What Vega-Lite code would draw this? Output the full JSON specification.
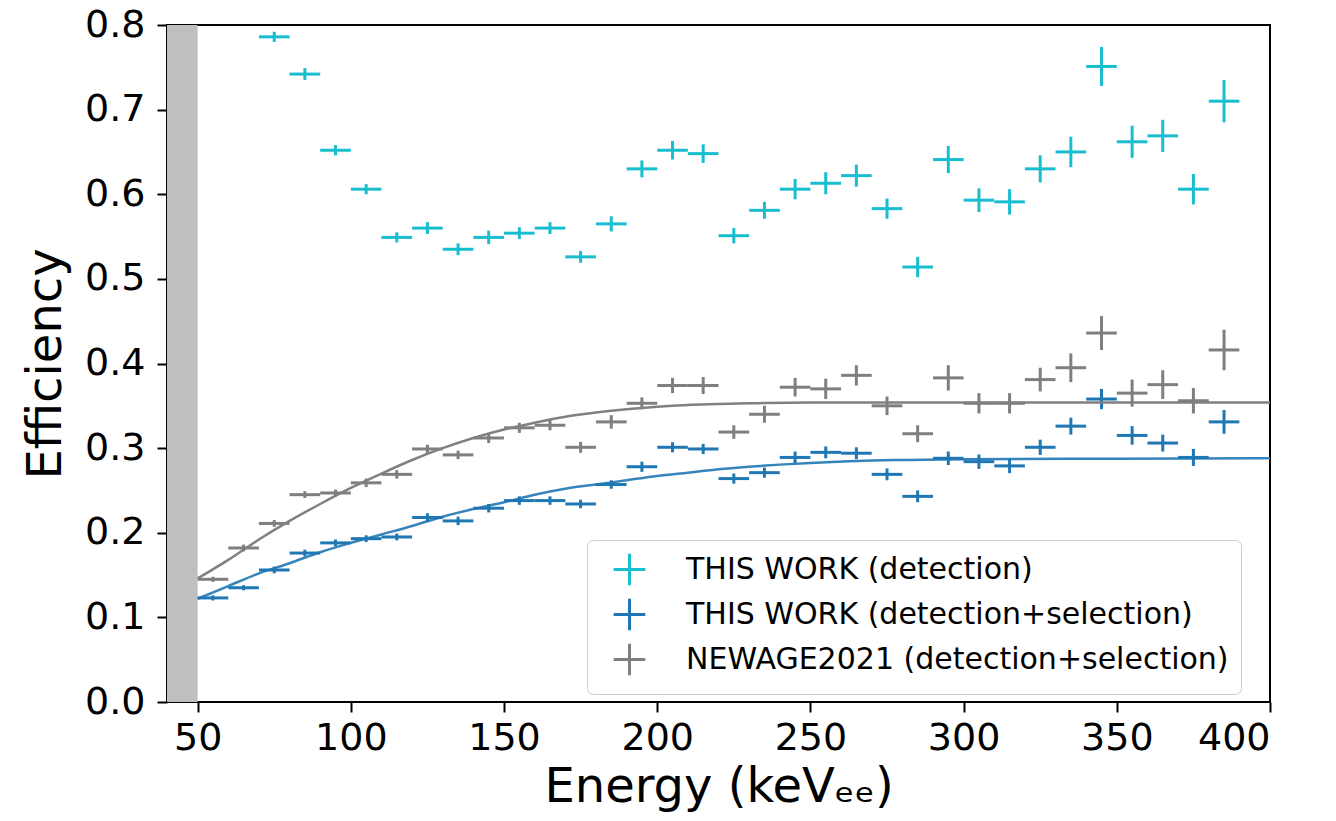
{
  "$schema": "https://vega.github.io/schema/vega-lite/v6.json",
  "width": 1103,
  "height": 677,
  "autosize": {"type": "none"},
  "padding": {"left": 167, "top": 25, "right": 66, "bottom": 119},
  "background": "white",
  "config": {
    "font": "DejaVu Sans",
    "view": {"stroke": "black", "strokeWidth": 2},
    "axis": {
      "domain": false, "grid": false,
      "tickColor": "black", "tickWidth": 2, "tickSize": 10,
      "labelColor": "black", "labelFontSize": 38, "labelFont": "DejaVu Sans",
      "titleColor": "black", "titleFontSize": 48, "titleFontWeight": "normal", "titleFont": "DejaVu Sans"
    }
  },
  "datasets": {
    "band": [{"lo": 40, "hi": 50}],
    "pts": [
      {"series": "THIS WORK (detection)", "E": 75, "eff": 0.786, "err": 0.006, "w": 5},
      {"series": "THIS WORK (detection)", "E": 85, "eff": 0.742, "err": 0.007, "w": 5},
      {"series": "THIS WORK (detection)", "E": 95, "eff": 0.652, "err": 0.006, "w": 5},
      {"series": "THIS WORK (detection)", "E": 105, "eff": 0.606, "err": 0.006, "w": 5},
      {"series": "THIS WORK (detection)", "E": 115, "eff": 0.549, "err": 0.006, "w": 5},
      {"series": "THIS WORK (detection)", "E": 125, "eff": 0.560, "err": 0.007, "w": 5},
      {"series": "THIS WORK (detection)", "E": 135, "eff": 0.535, "err": 0.007, "w": 5},
      {"series": "THIS WORK (detection)", "E": 145, "eff": 0.549, "err": 0.008, "w": 5},
      {"series": "THIS WORK (detection)", "E": 155, "eff": 0.554, "err": 0.007, "w": 5},
      {"series": "THIS WORK (detection)", "E": 165, "eff": 0.560, "err": 0.007, "w": 5},
      {"series": "THIS WORK (detection)", "E": 175, "eff": 0.526, "err": 0.007, "w": 5},
      {"series": "THIS WORK (detection)", "E": 185, "eff": 0.565, "err": 0.009, "w": 5},
      {"series": "THIS WORK (detection)", "E": 195, "eff": 0.630, "err": 0.010, "w": 5},
      {"series": "THIS WORK (detection)", "E": 205, "eff": 0.652, "err": 0.011, "w": 5},
      {"series": "THIS WORK (detection)", "E": 215, "eff": 0.648, "err": 0.011, "w": 5},
      {"series": "THIS WORK (detection)", "E": 225, "eff": 0.551, "err": 0.009, "w": 5},
      {"series": "THIS WORK (detection)", "E": 235, "eff": 0.581, "err": 0.010, "w": 5},
      {"series": "THIS WORK (detection)", "E": 245, "eff": 0.606, "err": 0.012, "w": 5},
      {"series": "THIS WORK (detection)", "E": 255, "eff": 0.613, "err": 0.013, "w": 5},
      {"series": "THIS WORK (detection)", "E": 265, "eff": 0.622, "err": 0.013, "w": 5},
      {"series": "THIS WORK (detection)", "E": 275, "eff": 0.583, "err": 0.012, "w": 5},
      {"series": "THIS WORK (detection)", "E": 285, "eff": 0.514, "err": 0.012, "w": 5},
      {"series": "THIS WORK (detection)", "E": 295, "eff": 0.641, "err": 0.016, "w": 5},
      {"series": "THIS WORK (detection)", "E": 305, "eff": 0.593, "err": 0.014, "w": 5},
      {"series": "THIS WORK (detection)", "E": 315, "eff": 0.591, "err": 0.015, "w": 5},
      {"series": "THIS WORK (detection)", "E": 325, "eff": 0.630, "err": 0.016, "w": 5},
      {"series": "THIS WORK (detection)", "E": 335, "eff": 0.650, "err": 0.018, "w": 5},
      {"series": "THIS WORK (detection)", "E": 345, "eff": 0.751, "err": 0.023, "w": 5},
      {"series": "THIS WORK (detection)", "E": 355, "eff": 0.662, "err": 0.019, "w": 5},
      {"series": "THIS WORK (detection)", "E": 365, "eff": 0.669, "err": 0.019, "w": 5},
      {"series": "THIS WORK (detection)", "E": 375, "eff": 0.606, "err": 0.018, "w": 5},
      {"series": "THIS WORK (detection)", "E": 385, "eff": 0.710, "err": 0.025, "w": 5},
      {"series": "THIS WORK (detection+selection)", "E": 55, "eff": 0.123, "err": 0.003, "w": 5},
      {"series": "THIS WORK (detection+selection)", "E": 65, "eff": 0.135, "err": 0.003, "w": 5},
      {"series": "THIS WORK (detection+selection)", "E": 75, "eff": 0.156, "err": 0.004, "w": 5},
      {"series": "THIS WORK (detection+selection)", "E": 85, "eff": 0.176, "err": 0.004, "w": 5},
      {"series": "THIS WORK (detection+selection)", "E": 95, "eff": 0.188, "err": 0.004, "w": 5},
      {"series": "THIS WORK (detection+selection)", "E": 105, "eff": 0.193, "err": 0.004, "w": 5},
      {"series": "THIS WORK (detection+selection)", "E": 115, "eff": 0.195, "err": 0.004, "w": 5},
      {"series": "THIS WORK (detection+selection)", "E": 125, "eff": 0.218, "err": 0.005, "w": 5},
      {"series": "THIS WORK (detection+selection)", "E": 135, "eff": 0.214, "err": 0.005, "w": 5},
      {"series": "THIS WORK (detection+selection)", "E": 145, "eff": 0.229, "err": 0.005, "w": 5},
      {"series": "THIS WORK (detection+selection)", "E": 155, "eff": 0.238, "err": 0.005, "w": 5},
      {"series": "THIS WORK (detection+selection)", "E": 165, "eff": 0.238, "err": 0.005, "w": 5},
      {"series": "THIS WORK (detection+selection)", "E": 175, "eff": 0.234, "err": 0.005, "w": 5},
      {"series": "THIS WORK (detection+selection)", "E": 185, "eff": 0.257, "err": 0.005, "w": 5},
      {"series": "THIS WORK (detection+selection)", "E": 195, "eff": 0.278, "err": 0.006, "w": 5},
      {"series": "THIS WORK (detection+selection)", "E": 205, "eff": 0.301, "err": 0.006, "w": 5},
      {"series": "THIS WORK (detection+selection)", "E": 215, "eff": 0.299, "err": 0.006, "w": 5},
      {"series": "THIS WORK (detection+selection)", "E": 225, "eff": 0.264, "err": 0.006, "w": 5},
      {"series": "THIS WORK (detection+selection)", "E": 235, "eff": 0.271, "err": 0.006, "w": 5},
      {"series": "THIS WORK (detection+selection)", "E": 245, "eff": 0.289, "err": 0.007, "w": 5},
      {"series": "THIS WORK (detection+selection)", "E": 255, "eff": 0.295, "err": 0.007, "w": 5},
      {"series": "THIS WORK (detection+selection)", "E": 265, "eff": 0.294, "err": 0.007, "w": 5},
      {"series": "THIS WORK (detection+selection)", "E": 275, "eff": 0.269, "err": 0.007, "w": 5},
      {"series": "THIS WORK (detection+selection)", "E": 285, "eff": 0.243, "err": 0.007, "w": 5},
      {"series": "THIS WORK (detection+selection)", "E": 295, "eff": 0.288, "err": 0.008, "w": 5},
      {"series": "THIS WORK (detection+selection)", "E": 305, "eff": 0.284, "err": 0.0085, "w": 5},
      {"series": "THIS WORK (detection+selection)", "E": 315, "eff": 0.279, "err": 0.0085, "w": 5},
      {"series": "THIS WORK (detection+selection)", "E": 325, "eff": 0.301, "err": 0.009, "w": 5},
      {"series": "THIS WORK (detection+selection)", "E": 335, "eff": 0.326, "err": 0.010, "w": 5},
      {"series": "THIS WORK (detection+selection)", "E": 345, "eff": 0.358, "err": 0.012, "w": 5},
      {"series": "THIS WORK (detection+selection)", "E": 355, "eff": 0.315, "err": 0.011, "w": 5},
      {"series": "THIS WORK (detection+selection)", "E": 365, "eff": 0.306, "err": 0.010, "w": 5},
      {"series": "THIS WORK (detection+selection)", "E": 375, "eff": 0.289, "err": 0.010, "w": 5},
      {"series": "THIS WORK (detection+selection)", "E": 385, "eff": 0.331, "err": 0.014, "w": 5},
      {"series": "NEWAGE2021 (detection+selection)", "E": 55, "eff": 0.145, "err": 0.003, "w": 5},
      {"series": "NEWAGE2021 (detection+selection)", "E": 65, "eff": 0.182, "err": 0.004, "w": 5},
      {"series": "NEWAGE2021 (detection+selection)", "E": 75, "eff": 0.211, "err": 0.004, "w": 5},
      {"series": "NEWAGE2021 (detection+selection)", "E": 85, "eff": 0.245, "err": 0.004, "w": 5},
      {"series": "NEWAGE2021 (detection+selection)", "E": 95, "eff": 0.247, "err": 0.004, "w": 5},
      {"series": "NEWAGE2021 (detection+selection)", "E": 105, "eff": 0.259, "err": 0.005, "w": 5},
      {"series": "NEWAGE2021 (detection+selection)", "E": 115, "eff": 0.269, "err": 0.005, "w": 5},
      {"series": "NEWAGE2021 (detection+selection)", "E": 125, "eff": 0.299, "err": 0.005, "w": 5},
      {"series": "NEWAGE2021 (detection+selection)", "E": 135, "eff": 0.292, "err": 0.005, "w": 5},
      {"series": "NEWAGE2021 (detection+selection)", "E": 145, "eff": 0.312, "err": 0.006, "w": 5},
      {"series": "NEWAGE2021 (detection+selection)", "E": 155, "eff": 0.324, "err": 0.006, "w": 5},
      {"series": "NEWAGE2021 (detection+selection)", "E": 165, "eff": 0.327, "err": 0.006, "w": 5},
      {"series": "NEWAGE2021 (detection+selection)", "E": 175, "eff": 0.301, "err": 0.0065, "w": 5},
      {"series": "NEWAGE2021 (detection+selection)", "E": 185, "eff": 0.331, "err": 0.008, "w": 5},
      {"series": "NEWAGE2021 (detection+selection)", "E": 195, "eff": 0.353, "err": 0.007, "w": 5},
      {"series": "NEWAGE2021 (detection+selection)", "E": 205, "eff": 0.374, "err": 0.009, "w": 5},
      {"series": "NEWAGE2021 (detection+selection)", "E": 215, "eff": 0.374, "err": 0.010, "w": 5},
      {"series": "NEWAGE2021 (detection+selection)", "E": 225, "eff": 0.319, "err": 0.008, "w": 5},
      {"series": "NEWAGE2021 (detection+selection)", "E": 235, "eff": 0.340, "err": 0.010, "w": 5},
      {"series": "NEWAGE2021 (detection+selection)", "E": 245, "eff": 0.372, "err": 0.011, "w": 5},
      {"series": "NEWAGE2021 (detection+selection)", "E": 255, "eff": 0.370, "err": 0.012, "w": 5},
      {"series": "NEWAGE2021 (detection+selection)", "E": 265, "eff": 0.386, "err": 0.012, "w": 5},
      {"series": "NEWAGE2021 (detection+selection)", "E": 275, "eff": 0.350, "err": 0.011, "w": 5},
      {"series": "NEWAGE2021 (detection+selection)", "E": 285, "eff": 0.317, "err": 0.010, "w": 5},
      {"series": "NEWAGE2021 (detection+selection)", "E": 295, "eff": 0.383, "err": 0.015, "w": 5},
      {"series": "NEWAGE2021 (detection+selection)", "E": 305, "eff": 0.353, "err": 0.012, "w": 5},
      {"series": "NEWAGE2021 (detection+selection)", "E": 315, "eff": 0.353, "err": 0.012, "w": 5},
      {"series": "NEWAGE2021 (detection+selection)", "E": 325, "eff": 0.381, "err": 0.014, "w": 5},
      {"series": "NEWAGE2021 (detection+selection)", "E": 335, "eff": 0.395, "err": 0.017, "w": 5},
      {"series": "NEWAGE2021 (detection+selection)", "E": 345, "eff": 0.436, "err": 0.020, "w": 5},
      {"series": "NEWAGE2021 (detection+selection)", "E": 355, "eff": 0.365, "err": 0.016, "w": 5},
      {"series": "NEWAGE2021 (detection+selection)", "E": 365, "eff": 0.375, "err": 0.017, "w": 5},
      {"series": "NEWAGE2021 (detection+selection)", "E": 375, "eff": 0.356, "err": 0.015, "w": 5},
      {"series": "NEWAGE2021 (detection+selection)", "E": 385, "eff": 0.416, "err": 0.024, "w": 5}
    ],
    "fitGray": [
      {"E": 50, "eff": 0.146}, {"E": 60, "eff": 0.168}, {"E": 70, "eff": 0.192}, {"E": 80, "eff": 0.214},
      {"E": 90, "eff": 0.234}, {"E": 100, "eff": 0.253}, {"E": 110, "eff": 0.270}, {"E": 120, "eff": 0.286},
      {"E": 130, "eff": 0.300}, {"E": 140, "eff": 0.312}, {"E": 150, "eff": 0.322}, {"E": 160, "eff": 0.330},
      {"E": 170, "eff": 0.337}, {"E": 180, "eff": 0.342}, {"E": 190, "eff": 0.346}, {"E": 200, "eff": 0.349},
      {"E": 210, "eff": 0.351}, {"E": 220, "eff": 0.352}, {"E": 230, "eff": 0.353}, {"E": 250, "eff": 0.354},
      {"E": 300, "eff": 0.354}, {"E": 350, "eff": 0.354}, {"E": 400, "eff": 0.354}
    ],
    "fitBlue": [
      {"E": 50, "eff": 0.122}, {"E": 60, "eff": 0.137}, {"E": 70, "eff": 0.152}, {"E": 80, "eff": 0.164},
      {"E": 90, "eff": 0.177}, {"E": 100, "eff": 0.188}, {"E": 110, "eff": 0.198}, {"E": 120, "eff": 0.208},
      {"E": 130, "eff": 0.219}, {"E": 140, "eff": 0.228}, {"E": 150, "eff": 0.236}, {"E": 160, "eff": 0.245},
      {"E": 170, "eff": 0.252}, {"E": 180, "eff": 0.257}, {"E": 190, "eff": 0.262}, {"E": 200, "eff": 0.267},
      {"E": 210, "eff": 0.271}, {"E": 220, "eff": 0.275}, {"E": 230, "eff": 0.278}, {"E": 240, "eff": 0.2805},
      {"E": 250, "eff": 0.2825}, {"E": 260, "eff": 0.284}, {"E": 270, "eff": 0.2853}, {"E": 280, "eff": 0.286},
      {"E": 300, "eff": 0.287}, {"E": 350, "eff": 0.2875}, {"E": 400, "eff": 0.288}
    ]
  },
  "layer": [
    {
      "data": {"name": "band"},
      "mark": {"type": "rect", "color": "#bfbfbf"},
      "encoding": {
        "x": {"field": "lo", "type": "quantitative", "scale": {"domain": [40, 400], "nice": false, "zero": false},
              "axis": {"title": "Energy (keVₑₑ)", "values": [50, 100, 150, 200, 250, 300, 350, 400], "labelPadding": 7, "titlePadding": 6}},
        "x2": {"field": "hi"},
        "y": {"datum": 0, "type": "quantitative", "scale": {"domain": [0, 0.8], "nice": false, "zero": false},
              "axis": {"title": "Efficiency", "values": [0, 0.1, 0.2, 0.3, 0.4, 0.5, 0.6, 0.7, 0.8], "format": ".1f", "labelPadding": 12, "titlePadding": 14}},
        "y2": {"datum": 0.8}
      }
    },
    {
      "data": {"name": "pts"},
      "mark": {"type": "errorbar", "ticks": false, "thickness": 3},
      "encoding": {
        "x": {"field": "E", "type": "quantitative",
              "axis": {"title": "Energy (keVₑₑ)", "values": [50, 100, 150, 200, 250, 300, 350, 400], "labelPadding": 7, "titlePadding": 6}},
        "xError": {"field": "w"},
        "y": {"field": "eff", "type": "quantitative",
              "axis": {"title": "Efficiency", "values": [0, 0.1, 0.2, 0.3, 0.4, 0.5, 0.6, 0.7, 0.8], "format": ".1f", "labelPadding": 12, "titlePadding": 14}},
        "color": {"field": "series", "type": "nominal",
          "scale": {"domain": ["THIS WORK (detection)", "THIS WORK (detection+selection)", "NEWAGE2021 (detection+selection)"], "range": ["#17becf", "#1f77b4", "#7f7f7f"]},
          "legend": {
            "title": null, "orient": "none", "legendX": 420, "legendY": 515, "direction": "vertical",
            "labelFontSize": 30, "labelFont": "DejaVu Sans", "labelColor": "black", "labelLimit": 0,
            "symbolType": "M-1,0H1M0,-1V1", "symbolSize": 1000, "symbolStrokeWidth": 3, "symbolFillColor": "transparent",
            "rowPadding": 0, "padding": 12, "symbolOffset": 13, "labelOffset": 39,
            "strokeColor": "#cccccc", "fillColor": "rgba(255,255,255,0.8)", "cornerRadius": 6
          }}
      }
    },
    {
      "data": {"name": "pts"},
      "mark": {"type": "errorbar", "ticks": false, "thickness": 3},
      "encoding": {
        "x": {"field": "E", "type": "quantitative",
              "axis": {"title": "Energy (keVₑₑ)", "values": [50, 100, 150, 200, 250, 300, 350, 400], "labelPadding": 7, "titlePadding": 6}},
        "y": {"field": "eff", "type": "quantitative",
              "axis": {"title": "Efficiency", "values": [0, 0.1, 0.2, 0.3, 0.4, 0.5, 0.6, 0.7, 0.8], "format": ".1f", "labelPadding": 12, "titlePadding": 14}},
        "yError": {"field": "err"},
        "color": {"field": "series", "type": "nominal"}
      }
    },
    {
      "data": {"name": "fitGray"},
      "mark": {"type": "line", "color": "#808080", "strokeWidth": 2.5, "interpolate": "monotone"},
      "encoding": {
        "x": {"field": "E", "type": "quantitative",
              "axis": {"title": "Energy (keVₑₑ)", "values": [50, 100, 150, 200, 250, 300, 350, 400], "labelPadding": 7, "titlePadding": 6}},
        "y": {"field": "eff", "type": "quantitative",
              "axis": {"title": "Efficiency", "values": [0, 0.1, 0.2, 0.3, 0.4, 0.5, 0.6, 0.7, 0.8], "format": ".1f", "labelPadding": 12, "titlePadding": 14}}
      }
    },
    {
      "data": {"name": "fitBlue"},
      "mark": {"type": "line", "color": "#1f77b4", "strokeWidth": 2.5, "opacity": 0.9, "interpolate": "monotone"},
      "encoding": {
        "x": {"field": "E", "type": "quantitative",
              "axis": {"title": "Energy (keVₑₑ)", "values": [50, 100, 150, 200, 250, 300, 350, 400], "labelPadding": 7, "titlePadding": 6}},
        "y": {"field": "eff", "type": "quantitative",
              "axis": {"title": "Efficiency", "values": [0, 0.1, 0.2, 0.3, 0.4, 0.5, 0.6, 0.7, 0.8], "format": ".1f", "labelPadding": 12, "titlePadding": 14}}
      }
    }
  ]
}
